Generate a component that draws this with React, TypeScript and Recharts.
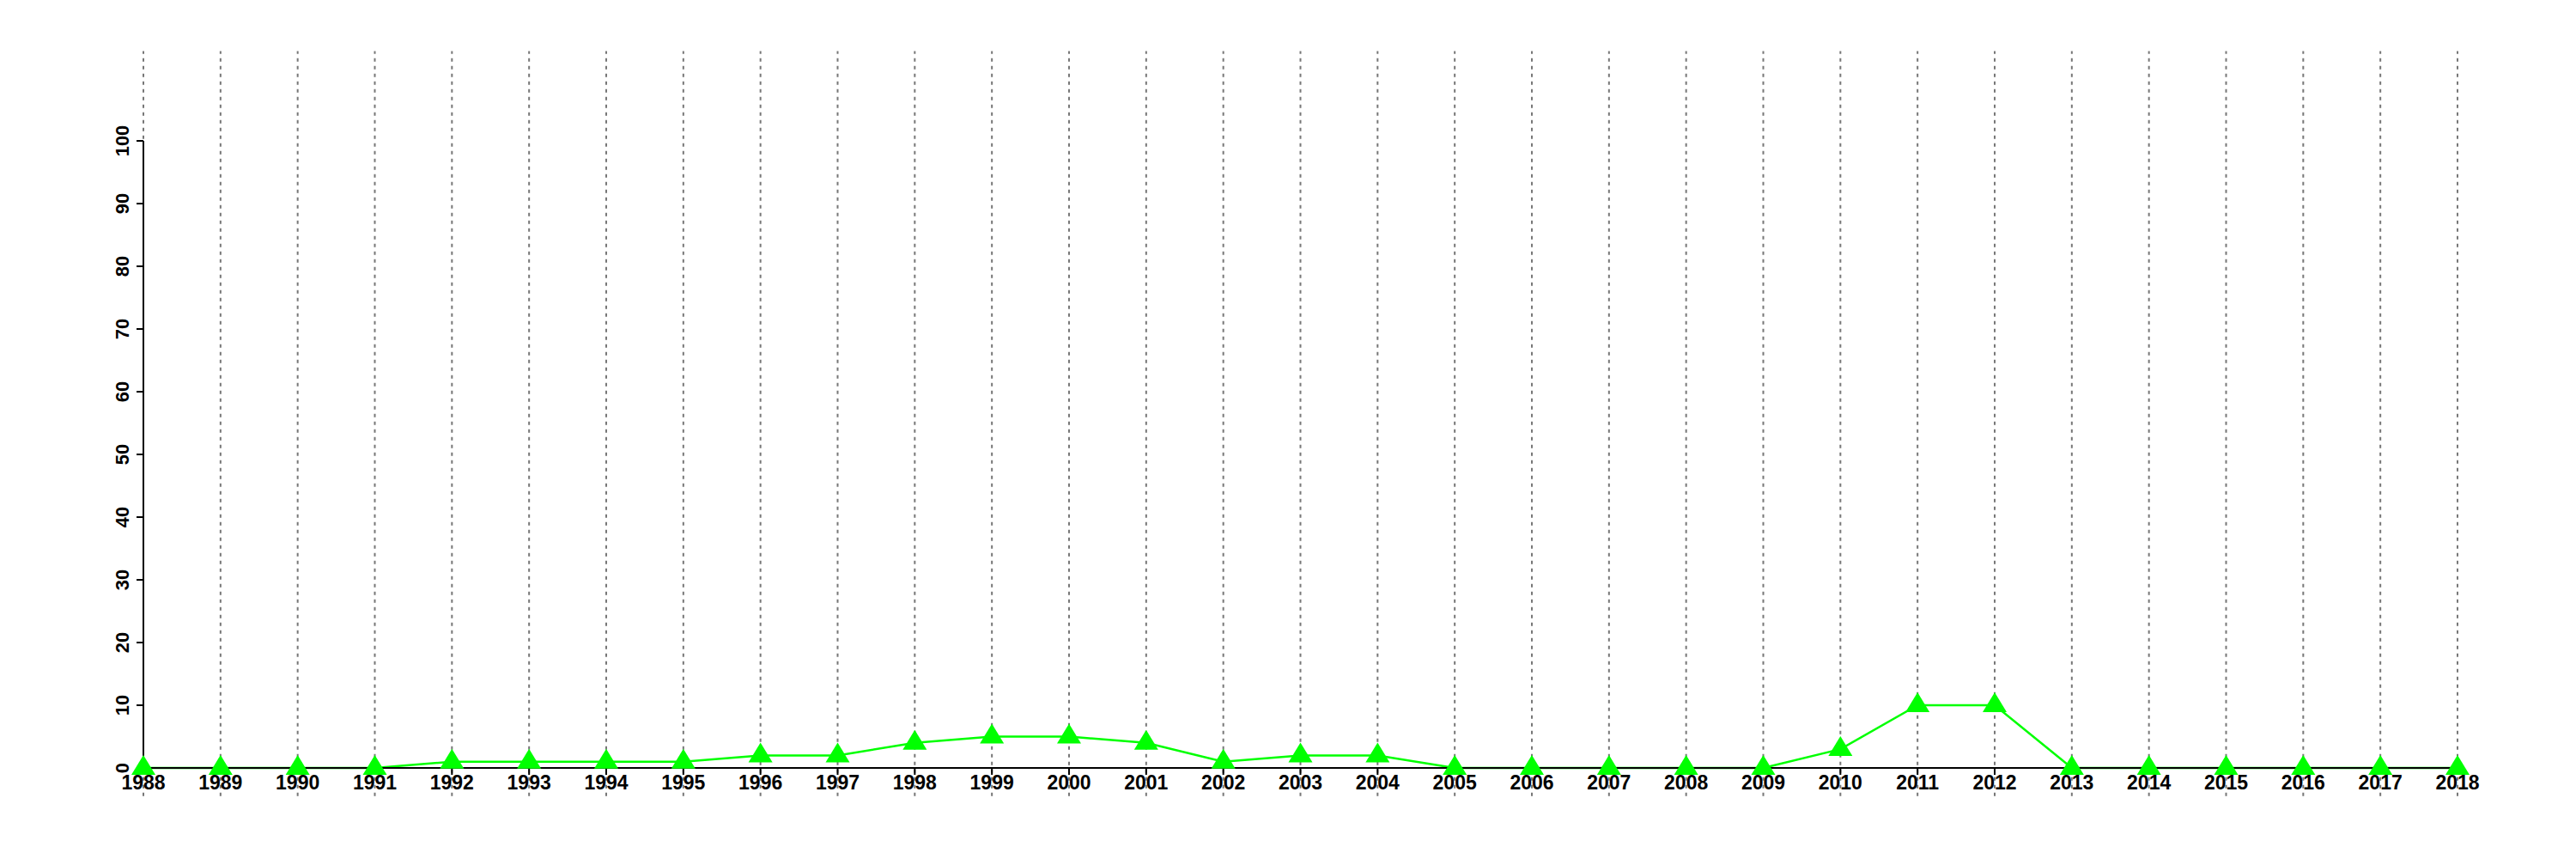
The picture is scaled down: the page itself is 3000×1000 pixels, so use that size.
import { LineChart, Line, XAxis, YAxis, ReferenceLine } from 'recharts'

const years = [
  '1988', '1989', '1990', '1991', '1992', '1993', '1994', '1995', '1996', '1997',
  '1998', '1999', '2000', '2001', '2002', '2003', '2004', '2005', '2006', '2007',
  '2008', '2009', '2010', '2011', '2012', '2013', '2014', '2015', '2016', '2017', '2018'
]
const counts = [
  0, 0, 0, 0, 1, 1, 1, 1, 2, 2,
  4, 5, 5, 4, 1, 2, 2, 0, 0, 0,
  0, 0, 3, 10, 10, 0, 0, 0, 0, 0, 0
]
const yTicks = [0, 10, 20, 30, 40, 50, 60, 70, 80, 90, 100]

// dotted guide lines run past the plot, above 100 and below 0
const GUIDE_TOP = 114.3
const GUIDE_BOTTOM = -4.5

const datos = years.map((anio, i) => ({ anio, valor: counts[i] }))

const FONT = '"Liberation Sans", Arial, Helvetica, sans-serif'
const GREEN = '#00ff00'

// eslint-disable-next-line @typescript-eslint/no-explicit-any
function Triangulo({ cx, cy }: any) {
  if (cx == null || cy == null) return null
  return (
    <polygon
      points={`${cx - 14},${cy + 8} ${cx + 14},${cy + 8} ${cx},${cy - 15}`}
      fill={GREEN}
      stroke="none"
    />
  )
}

// eslint-disable-next-line @typescript-eslint/no-explicit-any
function TickY({ x, y, payload }: any) {
  return (
    <text
      x={x}
      y={y}
      transform={`rotate(-90, ${x}, ${y})`}
      textAnchor="middle"
      fontSize={22}
      fontWeight="bold"
      fontFamily={FONT}
      fill="#000"
    >
      {payload.value}
    </text>
  )
}

export default function App() {
  return (
    <div style={{ position: 'absolute', left: 0, top: 0, background: '#fff' }}>
      <LineChart
        width={3000}
        height={1000}
        data={datos}
        margin={{ top: 164, right: 138, left: 0, bottom: 76 }}
      >
        <XAxis
          dataKey="anio"
          interval={0}
          tickSize={8}
          tickMargin={1}
          axisLine={{ stroke: '#000', strokeWidth: 2 }}
          tickLine={{ stroke: '#000', strokeWidth: 2 }}
          tick={{ fontSize: 23, fontWeight: 'bold', fill: '#000', fontFamily: FONT }}
        />
        <YAxis
          domain={[0, 100]}
          ticks={yTicks}
          width={167}
          tickSize={8}
          tickMargin={9}
          axisLine={{ stroke: '#000', strokeWidth: 2 }}
          tickLine={{ stroke: '#000', strokeWidth: 2 }}
          tick={<TickY />}
        />
        <Line
          type="linear"
          dataKey="valor"
          stroke={GREEN}
          strokeWidth={2.5}
          dot={<Triangulo />}
          activeDot={false}
          isAnimationActive={false}
        />
        {years.map((anio) => (
          <ReferenceLine
            key={anio}
            segment={[
              { x: anio, y: GUIDE_BOTTOM },
              { x: anio, y: GUIDE_TOP }
            ]}
            ifOverflow="visible"
            stroke="#777"
            strokeWidth={2}
            strokeDasharray="4 5"
          />
        ))}
      </LineChart>
    </div>
  )
}
